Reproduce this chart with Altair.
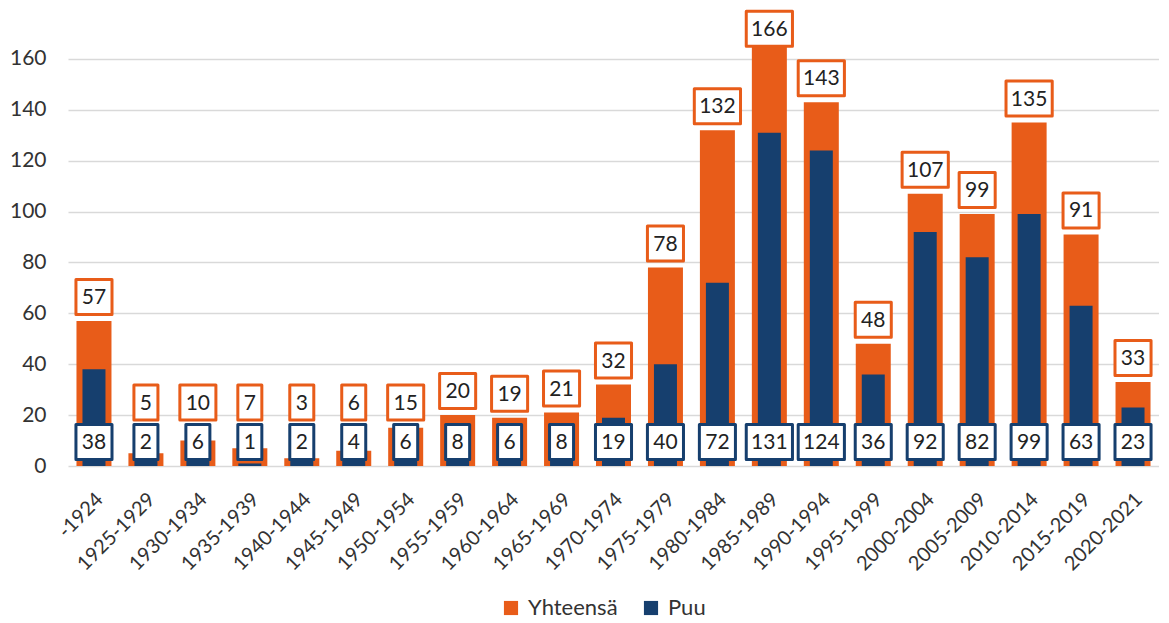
import altair as alt
import pandas as pd

categories = ["-1924", "1925-1929", "1930-1934", "1935-1939", "1940-1944", "1945-1949",
              "1950-1954", "1955-1959", "1960-1964", "1965-1969", "1970-1974", "1975-1979",
              "1980-1984", "1985-1989", "1990-1994", "1995-1999", "2000-2004", "2005-2009",
              "2010-2014", "2015-2019", "2020-2021"]
total = [57, 5, 10, 7, 3, 6, 15, 20, 19, 21, 32, 78, 132, 166, 143, 48, 107, 99, 135, 91, 33]
wood = [38, 2, 6, 1, 2, 4, 6, 8, 6, 8, 19, 40, 72, 131, 124, 36, 92, 82, 99, 63, 23]

series_names = ["Yhteensä", "Puu"]
ORANGE = "#E85C19"
BLUE = "#163F6E"
FONT = "Lato"

rows = []
for c, t, w in zip(categories, total, wood):
    rows.append({"cat": c, "series": "Yhteensä", "value": t})
    rows.append({"cat": c, "series": "Puu", "value": w})
df = pd.DataFrame(rows)

box_paths = {
    "1": "M-0.686,-1L0.686,-1L0.686,1L-0.686,1Z",
    "2": "M-1.03,-1L1.03,-1L1.03,1L-1.03,1Z",
    "3": "M-1.32,-1L1.32,-1L1.32,1L-1.32,1Z",
}

x = alt.X("cat:N", sort=categories, title=None,
          scale=alt.Scale(paddingInner=0, paddingOuter=0),
          axis=alt.Axis(labelAngle=-45, labelFontSize=20, labelFont=FONT, labelColor="#333333",
                        domain=False, ticks=False, labelPadding=23, labelOffset=-1))
y_scale = alt.Scale(domain=[0, 180], nice=False)
color = alt.Color("series:N", scale=alt.Scale(domain=series_names, range=[ORANGE, BLUE]),
                  title=None,
                  legend=alt.Legend(orient="none", legendX=432, legendY=589, direction="horizontal",
                                    symbolType="square", symbolSize=200, labelFontSize=22,
                                    labelFont=FONT, labelColor="#333333", columnPadding=22,
                                    padding=0, symbolStrokeWidth=0, labelOffset=6))

base = alt.Chart(df).transform_calculate(
    digits="toString(length(toString(datum.value)))",
    labely="datum.series == 'Yhteensä' ? min(max(datum.value, 15.5), 162.4) : 0",
)

orange_bars = base.transform_filter("datum.series == 'Yhteensä'").mark_bar(width=35).encode(
    x=x,
    y=alt.Y("value:Q", scale=y_scale, title=None,
            axis=alt.Axis(values=[0, 20, 40, 60, 80, 100, 120, 140, 160], grid=True,
                          gridColor="#D9D9D9", gridWidth=1.5, domain=False, ticks=False,
                          labelFontSize=21, labelFont=FONT, labelColor="#333333",
                          labelPadding=22)),
    color=color,
)
blue_bars = base.transform_filter("datum.series == 'Puu'").mark_bar(width=23).encode(
    x=x, y=alt.Y("value:Q", scale=y_scale), color=color,
)

shape = alt.Shape("digits:N", scale=alt.Scale(domain=list(box_paths.keys()),
                                              range=list(box_paths.values())), legend=None)

boxes = base.mark_point(filled=False, fill="white", fillOpacity=1, size=1225, strokeWidth=3,
                        strokeJoin="round", opacity=1).encode(
    x=x,
    y=alt.Y("labely:Q", scale=y_scale),
    yOffset=alt.value(-24),
    shape=shape,
    stroke=alt.Stroke("series:N", scale=alt.Scale(domain=series_names, range=[ORANGE, BLUE]),
                      legend=None),
)
texts = base.mark_text(fontSize=21, font=FONT, color="#222222", baseline="middle",
                       align="center").encode(
    x=x,
    y=alt.Y("labely:Q", scale=y_scale),
    yOffset=alt.value(-23),
    text="value:Q",
)

chart = alt.layer(orange_bars, blue_bars, boxes, texts).properties(
    width=1091, height=458,
    autosize=alt.AutoSizeParams(type="none"),
    padding={"left": 60, "top": 0, "right": 0, "bottom": 156},
).configure(background="white").configure_view(stroke=None)

chart.save("out.html", embed_options={"renderer": "svg", "actions": False})
